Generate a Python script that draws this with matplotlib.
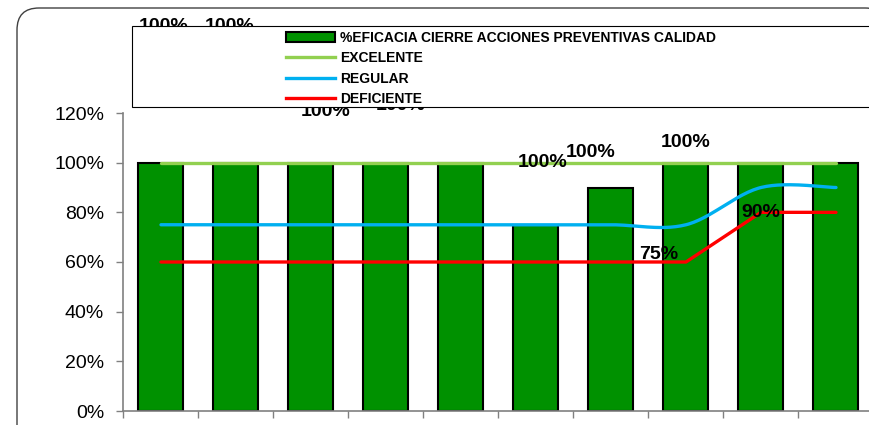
import numpy as np
import matplotlib.pyplot as plt
from matplotlib.patches import Patch, Rectangle, FancyBboxPatch
from matplotlib.lines import Line2D
from matplotlib.transforms import IdentityTransform

plt.rcParams['font.family'] = ['Liberation Sans', 'DejaVu Sans']

# data
eficacia = [100, 100, 100, 100, 100, 75, 90, 100, 100, 100]
excelente = [100] * 10
regular = [75, 75, 75, 75, 75, 75, 75, 75, 90, 90]
deficiente = [60, 60, 60, 60, 60, 60, 60, 60, 80, 80]
serie_labels = ['%EFICACIA CIERRE ACCIONES PREVENTIVAS CALIDAD',
                'EXCELENTE', 'REGULAR', 'DEFICIENTE']

# where excel left the data labels (x in categories, y in %)
label_pos = [(0.04, 155), (0.91, 155), (2.19, 120.5), (3.19, 123), (5.09, 100),
             (6.64, 63), (8.0, 80), (5.73, 104), (7.0, 108), (5.5, 138)]

GREEN = '#009100'
C_EXC = '#92D050'
C_REG = '#00B0F0'
C_DEF = '#FF0000'
GRAY = '#808080'


def smooth(y, k=1 / 6, n=30):
    # excel-style smoothed line: cubic bezier through each pair of points
    x = np.arange(len(y), dtype=float)
    y = np.asarray(y, dtype=float)
    xs, ys = [], []
    for i in range(len(y) - 1):
        a = max(i - 1, 0)
        b = min(i + 2, len(y) - 1)
        p0 = np.array([x[i], y[i]])
        p3 = np.array([x[i + 1], y[i + 1]])
        p1 = p0 + k * (np.array([x[i + 1], y[i + 1]]) - np.array([x[a], y[a]]))
        p2 = p3 - k * (np.array([x[b], y[b]]) - np.array([x[i], y[i]]))
        t = np.linspace(0, 1, n)[:, None]
        pts = ((1 - t) ** 3) * p0 + 3 * ((1 - t) ** 2) * t * p1 + 3 * (1 - t) * t ** 2 * p2 + t ** 3 * p3
        xs.extend(pts[:, 0])
        ys.extend(pts[:, 1])
    return np.array(xs), np.array(ys)


W, H = 870, 425
fig = plt.figure(figsize=(W / 100, H / 100), dpi=100)

# outer chart frame
fig.patches.append(FancyBboxPatch((17, -60), 870, H - 8 + 60,
                                  boxstyle='round,pad=0,rounding_size=22',
                                  transform=IdentityTransform(), facecolor='white',
                                  edgecolor='#404040', linewidth=1.0, zorder=-1))

ax = fig.add_axes([123.5 / W, 14 / H, 750 / W, 298 / H])
ax.set_facecolor('none')
x = np.arange(len(eficacia))
ax.bar(x, eficacia, width=0.6, color=GREEN, edgecolor='black', linewidth=1.5, zorder=2)
ax.plot(x, excelente, color=C_EXC, lw=2.4, zorder=3, solid_capstyle='round')
sx, sy = smooth(regular)
ax.plot(sx, sy, color=C_REG, lw=2.4, zorder=3, solid_capstyle='round')
ax.plot(x, deficiente, color=C_DEF, lw=2.4, zorder=3, solid_capstyle='round')

for v, (lx, ly) in zip(eficacia, label_pos):
    ax.text(lx, ly, f'{v}%', ha='center', va='center', fontsize=14,
            fontweight='bold', color='black', zorder=4, clip_on=False)

ax.set_xlim(-0.5, 9.5)
ax.set_ylim(0, 120)
ax.set_yticks(np.arange(0, 121, 20))
ax.set_yticklabels([f'{v}%' for v in range(0, 121, 20)], fontsize=14)
ax.set_xticks(np.arange(-0.5, 10, 1))
ax.set_xticklabels([])
ax.tick_params(axis='both', direction='out', length=5, color=GRAY, width=1)
ax.tick_params(axis='y', pad=9)
for s in ['top', 'right']:
    ax.spines[s].set_visible(False)
for s in ['left', 'bottom']:
    ax.spines[s].set_color(GRAY)
    ax.spines[s].set_linewidth(1.2)

# legend box, drawn over the stray labels like in the original
fig.patches.append(Rectangle((132, H - 107), 800, 81, transform=IdentityTransform(),
                             facecolor='white', edgecolor='black', linewidth=0.8, zorder=5))
handles = [Patch(facecolor=GREEN, edgecolor='black', linewidth=1.5),
           Line2D([], [], color=C_EXC, lw=2.4),
           Line2D([], [], color=C_REG, lw=2.4),
           Line2D([], [], color=C_DEF, lw=2.4)]
leg = fig.legend(handles, serie_labels, loc='upper left', bbox_to_anchor=(274 / W, 1 - 18 / H),
                 frameon=False, prop={'weight': 'bold', 'size': 10}, handlelength=3.5,
                 handletextpad=0.35, labelspacing=0.47, borderpad=0.4)
leg.set_zorder(6)

fig.savefig('out.png', dpi=100)
